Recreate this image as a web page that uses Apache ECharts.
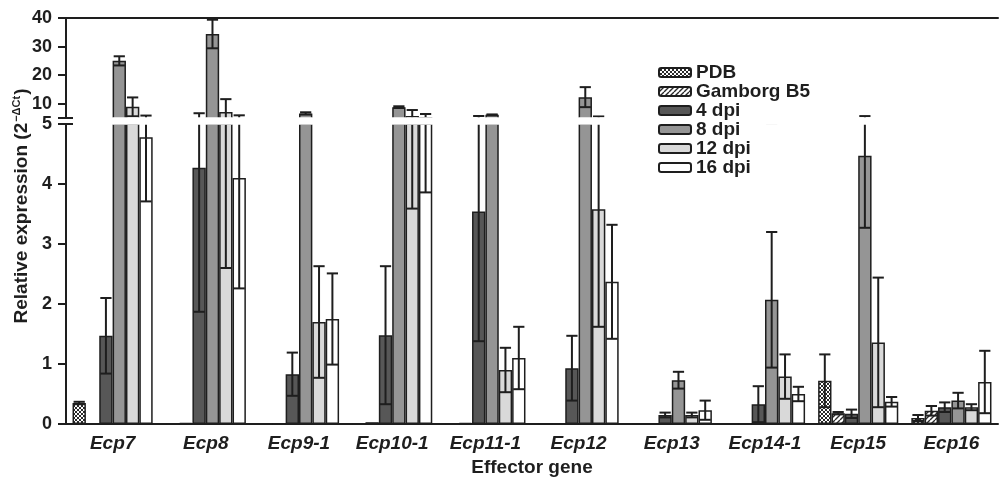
<!DOCTYPE html>
<html>
<head>
<meta charset="utf-8">
<script src="https://cdn.jsdelivr.net/npm/echarts@6/dist/echarts.min.js"></script>
<style>html,body{margin:0;padding:0;background:#fff}#c{width:1002px;height:477px}</style>
</head>
<body>
<div id="c"></div>
<script>
const categories = ['Ecp7','Ecp8','Ecp9-1','Ecp10-1','Ecp11-1','Ecp12','Ecp13','Ecp14-1','Ecp15','Ecp16'];
const seriesNames = ['PDB','Gamborg B5','4 dpi','8 dpi','12 dpi','16 dpi'];

const pdb      = [0.35, 0.01, 0.005, 0.01, 0.005, 0.003, 0.002, 0.005, 0.72, 0.10];
const pdbErr   = [0.02, 0, 0, 0, 0, 0, 0, 0, 0.44, 0.05];
const gb5      = [0.01, 0.02, 0.01, 0.03, 0.02, 0.005, 0.002, 0.01, 0.18, 0.22];
const gb5Err   = [0, 0, 0, 0, 0, 0, 0, 0, 0.02, 0.08];
const dpi4     = [1.47, 4.27, 0.83, 1.48, 3.54, 0.93, 0.15, 0.33, 0.17, 0.28];
const dpi4Err  = [0.63, 2.4, 0.36, 1.15, 2.16, 0.54, 0.04, 0.3, 0.07, 0.08];
const dpi8     = [25.0, 34.4, 6.6, 8.8, 6.1, 12.3, 0.73, 2.07, 4.47, 0.39];
const dpi8Err  = [1.6, 5.0, 0.4, 0.3, 0.15, 3.5, 0.14, 1.13, 1.2, 0.13];
const dpi12    = [8.9, 7.1, 1.7, 5.69, 0.9, 3.58, 0.15, 0.79, 1.36, 0.28];
const dpi12Err = [3.3, 4.5, 0.93, 2.1, 0.37, 1.96, 0.04, 0.37, 1.08, 0.05];
const dpi16    = [4.78, 4.1, 1.75, 5.13, 1.1, 2.37, 0.23, 0.5, 0.37, 0.7];
const dpi16Err = [1.07, 1.84, 0.76, 1.27, 0.52, 0.95, 0.16, 0.12, 0.08, 0.52];

const lowerTicks = [0, 1, 2, 3, 4, 5];
const upperTicks = [10, 20, 30, 40];
const breakValue = 5;
const lowerAxisMax = 5.1;   // lower segment runs a little past the break (hidden by the gap)
const upperAxisMin = 2.9;   // upper segment runs a little below the break (hidden by the gap)
const upperMax = 40;

const means = [pdb, gb5, dpi4, dpi8, dpi12, dpi16];
const errs = [pdbErr, gb5Err, dpi4Err, dpi8Err, dpi12Err, dpi16Err];

function makePattern(type) {
  const n = type === 'x' ? 4 : 5;
  const c = document.createElement('canvas');
  c.width = n; c.height = n;
  const g = c.getContext('2d');
  g.fillStyle = '#fff'; g.fillRect(0, 0, n, n);
  g.strokeStyle = '#2a2a2a'; g.lineWidth = type === 'x' ? 1 : 1.4;
  g.beginPath();
  if (type === 'x') {
    g.moveTo(0, 0); g.lineTo(n, n);
    g.moveTo(n, 0); g.lineTo(0, n);
  } else {
    for (let a = -n; a <= n; a += n) { g.moveTo(a, n); g.lineTo(a + n, 0); }
  }
  g.stroke();
  return c;
}

const fills = [
  { image: makePattern('x'), repeat: 'repeat' },
  { image: makePattern('/'), repeat: 'repeat' },
  '#575757', '#959595', '#d9d9d9', '#ffffff'
];

const FONT = 'Liberation Sans';
const INK = '#1e1e1e';
const GRID_LEFT = 66;
const CAT_GAP = 0.14;

const chart = echarts.init(document.getElementById('c'), null, { renderer: 'canvas' });

const series = [];
seriesNames.forEach((name, si) => {
  series.push({
    name, type: 'bar', xAxisIndex: 0, yAxisIndex: 0,
    barGap: '0%', barCategoryGap: (CAT_GAP * 100) + '%',
    clip: true,
    itemStyle: { color: fills[si], borderColor: INK, borderWidth: 1.5 },
    data: means[si].slice()
  });
});
seriesNames.forEach((name, si) => {
  series.push({
    name, type: 'bar', xAxisIndex: 1, yAxisIndex: 1,
    barGap: '0%', barCategoryGap: (CAT_GAP * 100) + '%',
    clip: true,
    itemStyle: { color: fills[si], borderColor: INK, borderWidth: 1.5 },
    data: means[si].map(v => v > breakValue ? v : '-')
  });
});

const errData = [];
means.forEach((arr, si) => arr.forEach((m, ci) => {
  if (errs[si][ci] > 0) errData.push([ci, si, m, errs[si][ci]]);
}));

function errRenderer(ymin, ymax) {
  return function (params, api) {
    const ci = api.value(0), si = api.value(1), m = api.value(2), e = api.value(3);
    const lo = m - e, hi = m + e;
    if (hi <= ymin || lo >= ymax) return null;
    const band = api.size([1, 0])[0];
    const bw = band * (1 - CAT_GAP) / 6;
    const cx = api.coord([ci, ymin])[0] + (si - 2.5) * bw;
    const yTop = api.coord([ci, Math.min(hi, ymax)])[1];
    const yBot = api.coord([ci, Math.max(lo, ymin)])[1];
    const cap = bw * 0.42;
    const st = { stroke: INK, lineWidth: 2 };
    const children = [{ type: 'line', shape: { x1: cx, y1: yTop, x2: cx, y2: yBot }, style: st }];
    if (hi <= ymax) children.push({ type: 'line', shape: { x1: cx - cap, y1: yTop, x2: cx + cap, y2: yTop }, style: st });
    if (lo >= ymin) children.push({ type: 'line', shape: { x1: cx - cap, y1: yBot, x2: cx + cap, y2: yBot }, style: st });
    return { type: 'group', children };
  };
}

series.push({
  name: 'err-lower', type: 'custom', xAxisIndex: 0, yAxisIndex: 0, z: 5,
  renderItem: errRenderer(0, lowerAxisMax), encode: { x: 0, y: 2 }, data: errData
});
series.push({
  name: 'err-upper', type: 'custom', xAxisIndex: 1, yAxisIndex: 1, z: 5,
  renderItem: errRenderer(upperAxisMin, upperMax), encode: { x: 0, y: 2 }, data: errData
});

const axisLineStyle = { color: INK, width: 2 };

chart.setOption({
  animation: false,
  backgroundColor: '#fff',
  grid: [
    { left: GRID_LEFT, right: 4, top: 118, bottom: 53, containLabel: false, outerBoundsMode: 'none' },
    { left: GRID_LEFT, right: 4, top: 18, bottom: 353, containLabel: false, outerBoundsMode: 'none' }
  ],
  legend: {
    data: seriesNames, orient: 'vertical', left: 658, top: 63, z: 20,
    itemWidth: 32, itemHeight: 9, itemGap: 0, padding: 0,
    textStyle: { fontFamily: FONT, fontWeight: 'bold', fontSize: 19, lineHeight: 18, color: INK }
  },
  xAxis: [
    {
      type: 'category', gridIndex: 0, data: categories,
      axisLine: { lineStyle: axisLineStyle },
      axisTick: { alignWithLabel: true, length: 6, lineStyle: axisLineStyle },
      axisLabel: { interval: 0, fontFamily: FONT, fontWeight: 'bold', fontStyle: 'italic', fontSize: 19, color: INK, margin: 10 },
      name: 'Effector gene', nameLocation: 'middle', nameGap: 31,
      nameTextStyle: { fontFamily: FONT, fontWeight: 'bold', fontSize: 19, color: INK }
    },
    {
      type: 'category', gridIndex: 1, data: categories, position: 'top',
      axisLine: { lineStyle: axisLineStyle }, axisTick: { show: false }, axisLabel: { show: false }
    }
  ],
  yAxis: [
    {
      type: 'value', gridIndex: 0, min: 0, max: lowerAxisMax, interval: 1,
      splitLine: { show: false },
      axisLine: { show: true, lineStyle: axisLineStyle },
      axisTick: { show: true, length: 8, lineStyle: axisLineStyle, customValues: lowerTicks },
      axisLabel: { fontFamily: FONT, fontWeight: 'bold', fontSize: 18, color: INK, margin: 14, customValues: lowerTicks }
    },
    {
      type: 'value', gridIndex: 1, min: upperAxisMin, max: upperMax,
      splitLine: { show: false },
      axisLine: { show: true, lineStyle: axisLineStyle },
      axisTick: { show: true, length: 8, lineStyle: axisLineStyle, customValues: upperTicks },
      axisLabel: { fontFamily: FONT, fontWeight: 'bold', fontSize: 18, color: INK, margin: 14, customValues: upperTicks }
    }
  ],
  series
});

const yLowBreak = chart.convertToPixel({ yAxisIndex: 0 }, breakValue);
const yUpBreak = chart.convertToPixel({ yAxisIndex: 1 }, breakValue);
chart.setOption({
  graphic: [
    { type: 'rect', shape: { x: GRID_LEFT - 2, y: yUpBreak - 0.8, width: 1002 - GRID_LEFT + 2, height: yLowBreak - yUpBreak + 1.6 }, style: { fill: '#fff' }, z: 9 },
    { type: 'line', shape: { x1: GRID_LEFT - 8, y1: yLowBreak, x2: GRID_LEFT + 7, y2: yLowBreak }, style: { stroke: INK, lineWidth: 2 }, z: 10 },
    { type: 'line', shape: { x1: GRID_LEFT - 8, y1: yUpBreak, x2: GRID_LEFT + 7, y2: yUpBreak }, style: { stroke: INK, lineWidth: 2 }, z: 10 },
    {
      type: 'text', x: 22, y: 206, rotation: Math.PI / 2, z: 10,
      style: {
        text: '{a|Relative expression (2}{b|−ΔCt}{a|)}',
        align: 'center', verticalAlign: 'middle',
        rich: {
          a: { fontFamily: FONT, fontWeight: 'bold', fontSize: 19, fill: INK, lineHeight: 22 },
          b: { fontFamily: FONT, fontWeight: 'bold', fontSize: 11, fill: INK, verticalAlign: 'top', lineHeight: 22, padding: [0, 1, 9, 1] }
        }
      }
    }
  ]
});
</script>
</body>
</html>
